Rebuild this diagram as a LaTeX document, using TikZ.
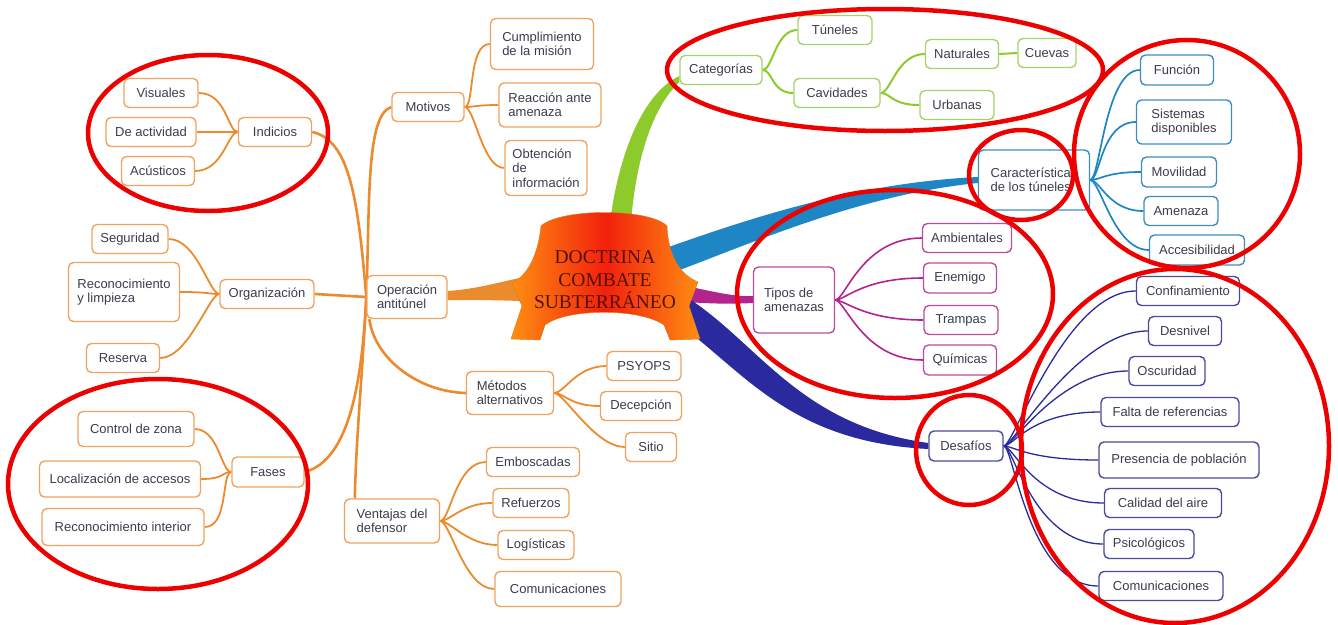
\documentclass[tikz,border=0pt]{standalone}
\usepackage{fontspec}
\setmainfont{Liberation Sans}
\newfontfamily\bannerfont{Liberation Serif}
\usepackage{tikz}
\usetikzlibrary{positioning, calc, backgrounds}
\definecolor{MapOrange}{HTML}{EC8A2E}
\definecolor{OrangeEdge}{HTML}{F0A35E}
\definecolor{MapGreen}{HTML}{8CCB2B}
\definecolor{GreenEdge}{HTML}{A6D468}
\definecolor{MapBlue}{HTML}{1F86C6}
\definecolor{BlueEdge}{HTML}{3D8EC0}
\definecolor{MapMagenta}{HTML}{B3248F}
\definecolor{MagentaEdge}{HTML}{BC4C9E}
\definecolor{MapNavy}{HTML}{2A2A9E}
\definecolor{NavyEdge}{HTML}{4A4A9E}
\definecolor{LabelGray}{HTML}{3C3C4E}
\definecolor{RingRed}{HTML}{EE0000}
\definecolor{BannerRed}{HTML}{F2200C}
\definecolor{BannerOrange}{HTML}{FF8E12}
\definecolor{BannerText}{HTML}{561208}

\begin{document}
\begin{tikzpicture}[x=1pt, y=-1pt,
  box/.style={rectangle, rounded corners=5pt, line width=1.4pt, fill=white, text=LabelGray, font=\fontsize{13}{14.5}\selectfont, align=left, inner xsep=6pt, inner ysep=4pt, minimum height=29pt},
  orangebox/.style={box, draw=OrangeEdge},
  greenbox/.style={box, draw=GreenEdge},
  bluebox/.style={box, draw=BlueEdge},
  magentabox/.style={box, draw=MagentaEdge},
  navybox/.style={box, draw=NavyEdge},
  orangelimb/.style={MapOrange, line width=2.6pt},
  orangeline/.style={MapOrange, line width=1.8pt},
  greenline/.style={MapGreen, line width=2pt},
  blueline/.style={MapBlue, line width=1.7pt},
  magentaline/.style={MapMagenta, line width=1.6pt},
  navyline/.style={MapNavy, line width=1.3pt},
  lfan/.style={out=180, in=0, out distance=10pt, in distance=#1},
  lfan/.default=28pt,
  rfan/.style={out=0, in=180, out distance=10pt, in distance=#1},
  rfan/.default=28pt,
  redring/.style={RingRed, line width=4.5pt}
]
  \useasboundingbox (0,0) rectangle (1338,624);

  % Core
  \node[font=\bannerfont\fontsize{19.5}{22.5}\selectfont, text=BannerText, align=center] (core) at (605,280) {DOCTRINA\\COMBATE\\SUBTERRÁNEO};

  % Orange side
  \node[orangebox, minimum width=74pt] (visuales) at (161,93) {Visuales};
  \node[orangebox, minimum width=90pt] (actividad) at (151,132) {De actividad};
  \node[orangebox, minimum width=73pt] (acusticos) at (158,171) {Acústicos};
  \node[orangebox, minimum width=73pt] (indicios) at (275,132) {Indicios};
  \node[orangebox, minimum width=72pt] (motivos) at (428,107) {Motivos};
  \node[orangebox, minimum width=103pt, minimum height=51pt] (mision) at (542,44) {Cumplimiento\\de la misión};
  \node[orangebox, minimum width=102pt, minimum height=44pt] (reaccion) at (550,105) {Reacción ante\\amenaza};
  \node[orangebox, minimum width=82pt, minimum height=55pt] (obtencion) at (546,168) {Obtención\\de\\información};
  \node[orangebox, minimum width=76pt] (seguridad) at (130,239) {Seguridad};
  \node[orangebox, minimum width=111pt, minimum height=59pt] (limpieza) at (124,292) {Reconocimiento\\y limpieza};
  \node[orangebox, minimum width=94pt] (organizacion) at (267,294) {Organización};
  \node[orangebox, minimum width=73pt] (reserva) at (123,358) {Reserva};
  \node[orangebox, minimum width=80pt, minimum height=43pt] (operacion) at (407,297) {Operación\\antitúnel};
  \node[orangebox, minimum width=116pt, minimum height=35pt] (zona) at (136,429) {Control de zona};
  \node[orangebox, minimum width=161pt, minimum height=36pt] (accesos) at (120,479) {Localización de accesos};
  \node[orangebox, minimum width=162pt, minimum height=37pt] (interior) at (123,527) {Reconocimiento interior};
  \node[orangebox, minimum width=72pt, minimum height=30pt] (fases) at (268,472) {Fases};
  \node[orangebox, minimum width=87pt, minimum height=43pt] (metodos) at (510,393) {Métodos\\alternativos};
  \node[orangebox, minimum width=74pt] (psyops) at (644,366) {PSYOPS};
  \node[orangebox, minimum width=81pt] (decepcion) at (641,406) {Decepción};
  \node[orangebox, minimum width=51pt] (sitio) at (651,447) {Sitio};
  \node[orangebox, minimum width=95pt, minimum height=44pt] (ventajas) at (392,521) {Ventajas del\\defensor};
  \node[orangebox, minimum width=93pt] (emboscadas) at (533,462) {Emboscadas};
  \node[orangebox, minimum width=76pt] (refuerzos) at (531,503) {Refuerzos};
  \node[orangebox, minimum width=76pt] (logisticas) at (536,545) {Logísticas};
  \node[orangebox, minimum width=126pt, minimum height=35pt] (ocomunic) at (558,589) {Comunicaciones};

  % Green side
  \node[greenbox, minimum width=82pt] (categorias) at (721,70) {Categorías};
  \node[greenbox, minimum width=74pt] (tuneles) at (835,30) {Túneles};
  \node[greenbox, minimum width=86pt] (cavidades) at (837,93) {Cavidades};
  \node[greenbox, minimum width=73pt] (naturales) at (962,54) {Naturales};
  \node[greenbox, minimum width=58pt] (cuevas) at (1047,53) {Cuevas};
  \node[greenbox, minimum width=74pt] (urbanas) at (957,105) {Urbanas};

  % Blue side
  \node[bluebox, minimum width=111pt, minimum height=60pt] (caracteristicas) at (1034,180) {Características\\de los túneles};
  \node[bluebox, minimum width=73pt, minimum height=30pt] (funcion) at (1177,70) {Función};
  \node[bluebox, minimum width=95pt, minimum height=44pt] (sistemas) at (1184,122) {Sistemas\\disponibles};
  \node[bluebox, minimum width=75pt, minimum height=30pt] (movilidad) at (1179,172) {Movilidad};
  \node[bluebox, minimum width=74pt] (amenaza) at (1181,211) {Amenaza};
  \node[bluebox, minimum width=95pt, minimum height=30pt] (accesibilidad) at (1197,250) {Accesibilidad};

  % Magenta side
  \node[magentabox, minimum width=81pt, minimum height=66pt] (tipos) at (794,300) {Tipos de\\amenazas};
  \node[magentabox, minimum width=89pt] (ambientales) at (967,238) {Ambientales};
  \node[magentabox, minimum width=73pt, minimum height=30pt] (enemigo) at (960,278) {Enemigo};
  \node[magentabox, minimum width=74pt] (trampas) at (961,320) {Trampas};
  \node[magentabox, minimum width=73pt, minimum height=30pt] (quimicas) at (960,360) {Químicas};

  % Navy side
  \node[navybox, minimum width=74pt, minimum height=30pt] (desafios) at (966,446) {Desafíos};
  \node[navybox, minimum width=103pt] (confinamiento) at (1188,291) {Confinamiento};
  \node[navybox, minimum width=73pt] (desnivel) at (1185,331) {Desnivel};
  \node[navybox, minimum width=76pt] (oscuridad) at (1167,371) {Oscuridad};
  \node[navybox, minimum width=138pt] (referencias) at (1170,412) {Falta de referencias};
  \node[navybox, minimum width=160pt, minimum height=36pt] (poblacion) at (1179,460) {Presencia de población};
  \node[navybox, minimum width=117pt] (aire) at (1163,503) {Calidad del aire};
  \node[navybox, minimum width=90pt] (psicologicos) at (1149,544) {Psicológicos};
  \node[navybox, minimum width=124pt] (ncomunic) at (1161,586) {Comunicaciones};

  \begin{scope}[on background layer]
    % Thick branches
    \fill[MapGreen] (610,222) .. controls (618,160) and (640,95) .. ($(categorias.west)+(0,6)$) -- ($(categorias.west)+(0,12)$) .. controls (652,108) and (636,160) .. (631,222) -- cycle;
    \fill[MapBlue] (660,250) .. controls (740,222) and (850,183) .. ($(caracteristicas.west)+(0,-3)$) -- ($(caracteristicas.west)+(0,3)$) .. controls (860,195) and (760,240) .. (664,276) -- cycle;
    \fill[MapMagenta] (686,286) .. controls (715,292) and (735,297) .. ($(tipos.west)+(0,-4)$) -- ($(tipos.west)+(0,3)$) .. controls (735,304) and (715,304) .. (686,302) -- cycle;
    \fill[MapNavy] (688,298) .. controls (760,345) and (800,425) .. ($(desafios.west)+(0,-3)$) -- ($(desafios.west)+(0,3)$) .. controls (790,442) and (745,372) .. (676,322) -- cycle;
    \fill[MapOrange] ($(operacion.east)+(0,-6)$) .. controls (480,289) and (505,280) .. (540,274) -- (540,302) .. controls (505,300) and (480,300) .. ($(operacion.east)+(0,3)$) -- cycle;

    % Banner
    \shadedraw[left color=BannerOrange, right color=BannerOrange, middle color=BannerRed, draw=BannerOrange!85!black, line width=0.4pt]
      (541,226) .. controls (560,208) and (650,208) .. (667,226)
      .. controls (668,255) and (680,275) .. (698,282)
      -- (689,306) -- (700,339) -- (670,340) -- (664,325)
      .. controls (640,308) and (567,308) .. (545,325)
      -- (540,340) -- (511,339) -- (522,306) -- (512,283)
      .. controls (528,275) and (538,255) .. (541,226) -- cycle;

    % Orange limbs
    \draw[orangelimb] (operacion.west) .. controls (358,200) and (350,140) .. (indicios.east);
    \draw[orangelimb] (operacion.west) .. controls (370,200) and (366,115) .. (motivos.west);
    \draw[orangelimb] (operacion.west) -- (organizacion.east);
    \draw[orangelimb] (operacion.west) .. controls (362,380) and (350,460) .. (fases.east);
    \draw[orangelimb] (operacion.west) .. controls (362,380) and (356,440) .. ([xshift=11pt]ventajas.north west);
    \draw[orangelimb] ([xshift=3pt]operacion.south west) .. controls (375,360) and (420,392) .. (metodos.west);

    % Orange leaves
    \draw[orangeline] (indicios.west) to[lfan] (visuales.east);
    \draw[orangeline] (indicios.west) to[lfan] (actividad.east);
    \draw[orangeline] (indicios.west) to[lfan] (acusticos.east);
    \draw[orangeline] (motivos.east) to[rfan=22pt] (mision.west);
    \draw[orangeline] (motivos.east) to[rfan=22pt] (reaccion.west);
    \draw[orangeline] (motivos.east) to[rfan=22pt] (obtencion.west);
    \draw[orangeline] (organizacion.west) to[lfan] (seguridad.east);
    \draw[orangeline] (organizacion.west) to[lfan] (limpieza.east);
    \draw[orangeline] (organizacion.west) to[lfan] (reserva.east);
    \draw[orangeline] (fases.west) to[lfan=24pt] (zona.east);
    \draw[orangeline] (fases.west) to[lfan=24pt] (accesos.east);
    \draw[orangeline] (fases.west) to[lfan=24pt] (interior.east);
    \draw[orangeline] (metodos.east) to[rfan=30pt] (psyops.west);
    \draw[orangeline] (metodos.east) to[rfan=30pt] (decepcion.west);
    \draw[orangeline] (metodos.east) to[rfan=30pt] (sitio.west);
    \draw[orangeline] (ventajas.east) to[rfan=30pt] (emboscadas.west);
    \draw[orangeline] (ventajas.east) to[rfan=30pt] (refuerzos.west);
    \draw[orangeline] (ventajas.east) to[rfan=30pt] (logisticas.west);
    \draw[orangeline] (ventajas.east) to[rfan=30pt] (ocomunic.west);

    % Green leaves
    \draw[greenline] (categorias.east) to[rfan=22pt] (tuneles.west);
    \draw[greenline] (categorias.east) to[rfan=22pt] (cavidades.west);
    \draw[greenline] (cavidades.east) to[rfan] (naturales.west);
    \draw[greenline] (cavidades.east) to[rfan] (urbanas.west);
    \draw[greenline] (naturales.east) -- (cuevas.west);

    % Blue leaves
    \draw[blueline] (caracteristicas.east) to[rfan=35pt] (funcion.west);
    \draw[blueline] (caracteristicas.east) to[rfan=35pt] (sistemas.west);
    \draw[blueline] (caracteristicas.east) to[rfan=35pt] (movilidad.west);
    \draw[blueline] (caracteristicas.east) to[rfan=35pt] (amenaza.west);
    \draw[blueline] (caracteristicas.east) to[rfan=35pt] (accesibilidad.west);

    % Magenta leaves
    \draw[magentaline] (tipos.east) to[rfan=60pt] (ambientales.west);
    \draw[magentaline] (tipos.east) to[rfan=60pt] (enemigo.west);
    \draw[magentaline] (tipos.east) to[rfan=60pt] (trampas.west);
    \draw[magentaline] (tipos.east) to[rfan=60pt] (quimicas.west);

    % Navy leaves
    \draw[navyline] (desafios.east) to[rfan=70pt] (confinamiento.west);
    \draw[navyline] (desafios.east) to[rfan=70pt] (desnivel.west);
    \draw[navyline] (desafios.east) to[rfan=70pt] (oscuridad.west);
    \draw[navyline] (desafios.east) to[rfan=70pt] (referencias.west);
    \draw[navyline] (desafios.east) to[rfan=70pt] (poblacion.west);
    \draw[navyline] (desafios.east) to[rfan=70pt] (aire.west);
    \draw[navyline] (desafios.east) to[rfan=70pt] (psicologicos.west);
    \draw[navyline] (desafios.east) to[rfan=70pt] (ncomunic.west);
  \end{scope}

  % Red rings
  \draw[redring] (208,133) ellipse [x radius=120pt, y radius=78pt];
  \draw[redring] (158,484) ellipse [x radius=150pt, y radius=105pt];
  \draw[redring] (885,70) ellipse [x radius=218pt, y radius=61pt];
  \draw[redring] (1021,175) ellipse [x radius=52pt, y radius=45pt];
  \draw[redring] (1187,154) ellipse [x radius=113pt, y radius=114pt];
  \draw[redring] (895,294) ellipse [x radius=158pt, y radius=104pt];
  \draw[redring] (969,450) ellipse [x radius=53pt, y radius=55pt];
  \draw[redring] (1175,446) ellipse [x radius=154pt, y radius=177pt];
\end{tikzpicture}
\end{document}
